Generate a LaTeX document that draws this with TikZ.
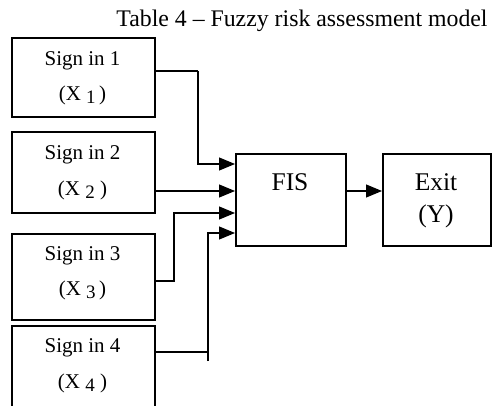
\documentclass[tikz,border=0pt]{standalone}
\usepackage{fontspec}
\setmainfont{Liberation Serif}
\usetikzlibrary{arrows.meta}
\begin{document}
\begin{tikzpicture}[x=1pt,y=-1pt,
  blk/.style={draw,line width=2pt,rectangle,inner sep=0pt,anchor=north west},
  conn/.style={line width=1.2pt},
  arr/.style={conn,-{Triangle[length=16pt,width=13pt]}},
  txt/.style={anchor=base,inner sep=0pt,font=\fontsize{21}{25}\selectfont},
  big/.style={anchor=base,inner sep=0pt,font=\fontsize{25.5}{30}\selectfont}]
\useasboundingbox (0,0) rectangle (493,405);
\newcommand{\sbx}[1]{\raisebox{-0.4ex}{\fontsize{19}{20}\selectfont #1}}
% title
\node[anchor=base,inner sep=0pt,font=\fontsize{23.8}{28}\selectfont] (title) at (302,26.5) {Table 4 -- Fuzzy risk assessment model};
% input boxes
\node[blk,minimum width=143pt,minimum height=79pt] (s1) at (11,37) {};
\node[blk,minimum width=143pt,minimum height=81pt] (s2) at (11,131) {};
\node[blk,minimum width=143pt,minimum height=86pt] (s3) at (11,233) {};
\node[blk,minimum width=143pt,minimum height=85pt] (s4) at (11,325) {};
\node[txt] (t1) at (82.5,65) {Sign in 1};
\node[txt] (x1) at (82.5,100) {(X \sbx{1}\,)};
\node[txt] (t2) at (82.5,159) {Sign in 2};
\node[txt] (x2) at (82.5,195) {(X \sbx{2} )};
\node[txt] (t3) at (82.5,260) {Sign in 3};
\node[txt] (x3) at (82.5,295) {(X \sbx{3}\,)};
\node[txt] (t4) at (82.5,352) {Sign in 4};
\node[txt] (x4) at (82.5,388) {(X \sbx{4} )};
% FIS and exit
\node[blk,minimum width=110pt,minimum height=92pt] (fis) at (235,153) {};
\node[blk,minimum width=108pt,minimum height=92pt] (exit) at (382,153) {};
\node[big] (tf) at (290,190) {FIS};
\node[big] (te) at (436,190) {Exit};
\node[big] (ty) at (436,222) {(Y)};
% turn points
\coordinate (a1) at (198,71);
\coordinate (b1) at (198,164);
\coordinate (a3) at (174,281);
\coordinate (b3) at (174,213);
\coordinate (a4) at (208,352);
\coordinate (b4) at (208,233);
\coordinate (e4) at (208,361);
% connectors
\draw[conn] (s1.east |- a1) -- (a1);
\draw[arr] (a1) -- (b1) -- (fis.west |- b1);
\draw[arr] (s2.east |- 0,191) -- (fis.west |- 0,191);
\draw[arr] (s3.east |- a3) -- (a3) -- (b3) -- (fis.west |- b3);
\draw[conn] (s4.east |- a4) -- (a4);
\draw[arr] (e4) -- (b4) -- (fis.west |- b4);
\draw[arr] (fis.east |- 0,191) -- (exit.west |- 0,191);
\end{tikzpicture}
\end{document}
